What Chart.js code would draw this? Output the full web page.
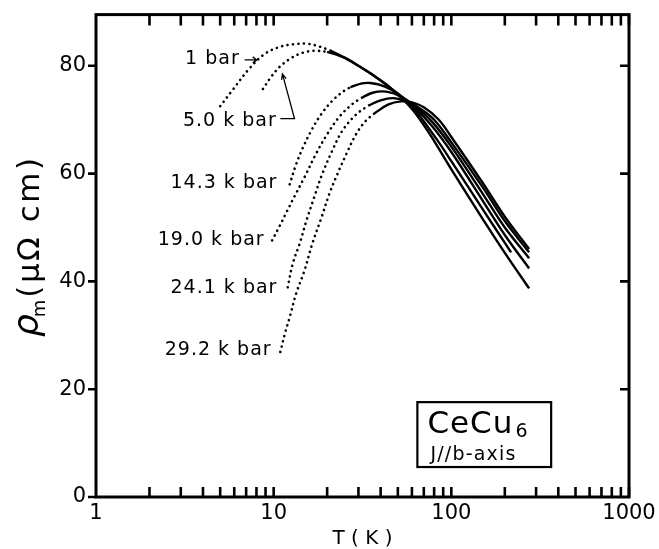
<!DOCTYPE html>
<html>
<head>
<meta charset="utf-8">
<script src="https://cdn.jsdelivr.net/npm/chart.js@4"></script>
<style>
  html, body { margin: 0; padding: 0; background: #fff; }
  #wrap { width: 659px; height: 549px; }
</style>
</head>
<body>
<div id="wrap"><canvas id="rhoChart" width="659" height="549"></canvas></div>
<script>
// T (K), rho_m (uOhm cm); low-T parts are dotted
const bar1Dotted = [[5.0,72.5],[5.9,75.6],[7.3,79.5],[8.9,82.2],[10.8,83.5],[13,84],[15.5,84.1],[18,83.6],[21,82.8]];
const bar1Solid = [[21,82.8],[27,80.9],[35,78.6],[45,76],[60,72],[75,67.5],[100,60.8],[150,51.6],[200,45.3],[274,38.7]];

const kbar5Dotted = [[8.7,75.7],[9.6,77.8],[10.8,79.8],[12.5,81.4],[14.5,82.4],[17,82.8],[20,82.6]];
const kbar5Solid = [[20,82.6],[25,81.5],[30,80],[38,77.8],[48,75.3],[60,72.5],[83,66.3],[100,62.3],[150,53.4],[217,45.4]];

const kbar14Dotted = [[12.3,58],[13.3,61.5],[14.6,64.8],[16.3,68],[18.5,71],[21.5,73.6],[25,75.4],[27,76]];
const kbar14Solid = [[27,76],[31,76.7],[35,76.8],[42,76.2],[50,74.8],[62,72.3],[78,68.8],[100,64],[150,55],[200,48.6],[274,42.4]];

const kbar19Dotted = [[9.8,47.6],[10.7,50],[11.8,52.8],[13.2,56],[15,59.5],[17.2,63.5],[20,67.3],[23.5,70.6],[27.5,72.8],[31,74]];
const kbar19Solid = [[31,74],[36,75],[43,75.2],[52,74.3],[62,72.6],[78,69.6],[100,65],[150,56.3],[200,50],[274,44.3]];

const kbar24Dotted = [[12,38.9],[12.8,43.3],[14,47],[15.3,51.3],[16.9,55.6],[18.8,60],[21.4,64.3],[24.4,68],[29.2,71],[34,72.6]];
const kbar24Solid = [[34,72.6],[40,73.6],[47,74],[55,73.5],[65,72.3],[80,70],[100,65.8],[150,57.5],[200,51.2],[274,45.4]];

const kbar29Dotted = [[10.9,26.9],[11.6,30.5],[12.3,33.3],[13.4,37.8],[14.9,42],[16.5,47],[18.6,51.9],[20.6,56.3],[22.9,60],[25.7,63.7],[29.2,67.4],[33,69.8],[37,71.2]];
const kbar29Solid = [[37,71.2],[44,72.8],[52,73.4],[60,73.2],[70,72.3],[85,70],[100,66.8],[150,58.3],[200,52],[274,46]];

const xTicks = [1, 10, 100, 1000];
const yTicks = [0, 20, 40, 60, 80];

// curve labels, anchored at right edge / middle, in data coords
const curveLabels = [
  { text: '1 bar', T: 6.44, rho: 81.3 },
  { text: '5.0 k bar', T: 10.4, rho: 69.8 },
  { text: '14.3 k bar', T: 10.5, rho: 58.3 },
  { text: '19.0 k bar', T: 8.9, rho: 47.6 },
  { text: '24.1 k bar', T: 10.5, rho: 38.7 },
  { text: '29.2 k bar', T: 9.74, rho: 27.2 }
];

function pts(arr) {
  return arr.map(p => ({ x: p[0], y: p[1] }));
}

function dotted(arr) {
  return {
    data: pts(arr), borderColor: '#000', borderWidth: 2.6, borderDash: [0.1, 5.4],
    borderCapStyle: 'round', pointRadius: 0, tension: 0.35, fill: false
  };
}

function solid(arr) {
  return {
    data: pts(arr), borderColor: '#000', borderWidth: 2.4,
    pointRadius: 0, tension: 0.35, fill: false
  };
}

const FONT = '"DejaVu Sans", sans-serif';

const decorations = {
  id: 'decorations',
  afterDatasetsDraw(chart) {
    const { ctx, chartArea: a, scales: { x, y } } = chart;
    const P = (T, r) => [x.getPixelForValue(T), y.getPixelForValue(r)];
    ctx.save();
    ctx.strokeStyle = '#000';
    ctx.fillStyle = '#000';

    // frame
    ctx.lineWidth = 3;
    ctx.strokeRect(a.left, a.top, a.right - a.left, a.bottom - a.top);

    // log ticks, inward on top and bottom
    ctx.lineWidth = 2.6;
    ctx.beginPath();
    for (let d = 1; d < 1000; d *= 10) {
      for (let m = 2; m <= 10; m++) {
        const px = x.getPixelForValue(d * m);
        ctx.moveTo(px, a.bottom); ctx.lineTo(px, a.bottom - 10);
        ctx.moveTo(px, a.top); ctx.lineTo(px, a.top + 11);
      }
    }
    // y ticks: outward on left, inward on right
    for (const v of yTicks) {
      const py = y.getPixelForValue(v);
      ctx.moveTo(a.left - 8, py); ctx.lineTo(a.left, py);
      if (v > 0) { ctx.moveTo(a.right, py); ctx.lineTo(a.right - 9, py); }
    }
    ctx.stroke();

    // curve labels
    ctx.font = '19px ' + FONT;
    ctx.letterSpacing = '1px';
    ctx.textAlign = 'right';
    ctx.textBaseline = 'middle';
    for (const l of curveLabels) {
      const [px, py] = P(l.T, l.rho);
      ctx.fillText(l.text, px, py);
    }
    ctx.letterSpacing = '0px';

    // arrow for 1 bar
    ctx.lineWidth = 1.3;
    let [ax0, ay0] = P(6.87, 81.1);
    let [ax1] = P(8.03, 81.1);
    ctx.beginPath();
    ctx.moveTo(ax0, ay0); ctx.lineTo(ax1, ay0);
    ctx.moveTo(ax1 - 4, ay0 - 3); ctx.lineTo(ax1, ay0); ctx.lineTo(ax1 - 4, ay0 + 3);
    ctx.stroke();

    // leader for 5.0 k bar
    const [l0x, l0y] = P(10.9, 70.2);
    const [l1x, l1y] = P(13.1, 70.2);
    const [l2x, l2y] = P(11.2, 78.5);
    ctx.beginPath();
    ctx.moveTo(l0x, l0y); ctx.lineTo(l1x, l1y); ctx.lineTo(l2x, l2y);
    const ang = Math.atan2(l2y - l1y, l2x - l1x);
    ctx.moveTo(l2x - 6 * Math.cos(ang - 0.4), l2y - 6 * Math.sin(ang - 0.4));
    ctx.lineTo(l2x, l2y);
    ctx.lineTo(l2x - 6 * Math.cos(ang + 0.4), l2y - 6 * Math.sin(ang + 0.4));
    ctx.stroke();

    // sample box
    const [bx0, by0] = P(64.4, 17.6);
    const [bx1, by1] = P(364.6, 5.56);
    ctx.lineWidth = 2.2;
    ctx.strokeRect(bx0, by0, bx1 - bx0, by1 - by0);
    ctx.textAlign = 'left';
    ctx.textBaseline = 'alphabetic';
    ctx.font = '31px ' + FONT;
    ctx.letterSpacing = '1px';
    ctx.fillText('CeCu', bx0 + 10, by0 + 31);
    const cw = ctx.measureText('CeCu').width;
    ctx.font = '19px ' + FONT;
    ctx.fillText('6', bx0 + 12 + cw, by0 + 35);
    ctx.font = '19px ' + FONT;
    ctx.letterSpacing = '1.2px';
    ctx.fillText('J//b-axis', bx0 + 13, by0 + 58);
    ctx.letterSpacing = '0px';

    // y axis title with subscript
    ctx.save();
    ctx.translate(30, (a.top + a.bottom) / 2 - 10);
    ctx.rotate(-Math.PI / 2);
    const f1 = 'italic 36px ' + FONT, f2 = '18px ' + FONT, f3 = '31px ' + FONT;
    ctx.letterSpacing = '0px';
    ctx.font = f1; const w1 = ctx.measureText('ρ').width;
    ctx.font = f2; const w2 = ctx.measureText('m').width;
    ctx.letterSpacing = '2.5px';
    ctx.font = f3; const w3 = ctx.measureText('(μΩ cm)').width;
    let sx = -(w1 + w2 + w3) / 2;
    ctx.textBaseline = 'alphabetic';
    ctx.letterSpacing = '0px';
    ctx.font = f1; ctx.fillText('ρ', sx, 8); sx += w1 - 3;
    ctx.font = f2; ctx.fillText('m', sx, 15); sx += w2 + 2;
    ctx.letterSpacing = '2.5px';
    ctx.font = f3; ctx.fillText('(μΩ cm)', sx, 9);
    ctx.restore();

    ctx.restore();
  }
};

const config = {
  type: 'line',
  data: {
    datasets: [
      dotted(bar1Dotted), solid(bar1Solid),
      dotted(kbar5Dotted), solid(kbar5Solid),
      dotted(kbar14Dotted), solid(kbar14Solid),
      dotted(kbar19Dotted), solid(kbar19Solid),
      dotted(kbar24Dotted), solid(kbar24Solid),
      dotted(kbar29Dotted), solid(kbar29Solid)
    ]
  },
  options: {
    responsive: false,
    animation: false,
    layout: { padding: { top: 14, right: 30, left: 0, bottom: 0 } },
    plugins: { legend: { display: false }, tooltip: { enabled: false } },
    scales: {
      x: {
        type: 'logarithmic', min: 1, max: 1000,
        grid: { display: false }, border: { display: false },
        afterBuildTicks: s => { s.ticks = xTicks.map(v => ({ value: v })); },
        afterFit: s => { s.height = 52; },
        ticks: {
          color: '#000', padding: -4, maxRotation: 0, autoSkip: false,
          font: { family: FONT, size: 21 },
          callback: v => String(v)
        },
        title: {
          display: true, text: 'T ( K )', color: '#000',
          font: { family: FONT, size: 20 }, padding: { top: 0, bottom: -2 }
        }
      },
      y: {
        type: 'linear', min: 0, max: 89.5,
        grid: { display: false }, border: { display: false },
        afterBuildTicks: s => { s.ticks = yTicks.map(v => ({ value: v })); },
        afterFit: s => { s.width = 96; },
        ticks: {
          color: '#000', padding: 2,
          font: { family: FONT, size: 21 }
        }
      }
    }
  },
  plugins: [decorations]
};

new Chart(document.getElementById('rhoChart').getContext('2d'), config);
</script>
</body>
</html>
